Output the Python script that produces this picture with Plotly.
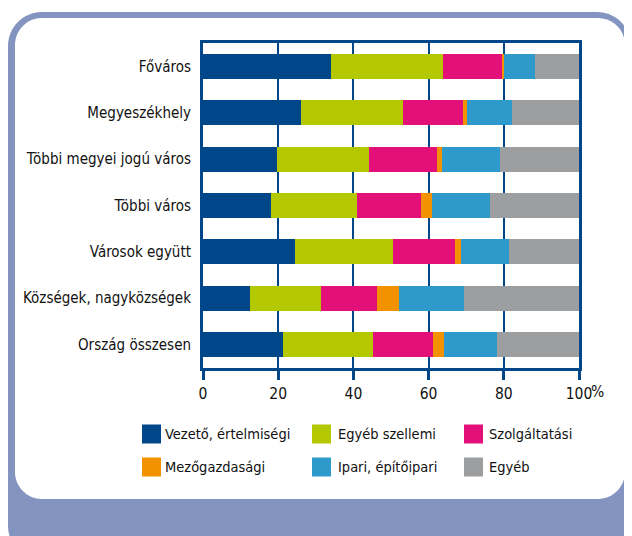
import plotly.graph_objects as go

categories = ["Főváros", "Megyeszékhely", "Többi megyei jogú város", "Többi város",
              "Városok együtt", "Községek, nagyközségek", "Ország összesen"]
series_names = ["Vezető, értelmiségi", "Egyéb szellemi", "Szolgáltatási",
                "Mezőgazdasági", "Ipari, építőipari", "Egyéb"]
vezeto = [34.0, 26.0, 19.8, 18.1, 24.5, 12.5, 21.2]
egyeb_szellemi = [29.8, 27.2, 24.4, 22.8, 25.9, 18.9, 24.0]
szolgaltatasi = [15.8, 15.9, 18.0, 17.0, 16.5, 14.9, 16.1]
mezogazdasagi = [0.4, 1.1, 1.4, 2.9, 1.6, 5.8, 2.8]
ipari = [8.2, 11.9, 15.3, 15.5, 12.8, 17.4, 14.0]
egyeb = [11.8, 17.9, 21.1, 23.7, 18.7, 30.5, 21.9]
tick_vals = [0, 20, 40, 60, 80, 100]
tick_text = ["0", "20", "40", "60", "80", "100"]

colors = ["#00478A", "#B3C800", "#E3107A", "#F39200", "#2E9ACB", "#9D9EA0"]
values = [vezeto, egyeb_szellemi, szolgaltatasi, mezogazdasagi, ipari, egyeb]

FONT = "DejaVu Sans Condensed, sans-serif"
DARK = "#00478A"
FRAME = "#8494C0"
TXT = "#111111"

# the page places the figure 8px in from the top-left corner (body margin)
OFF = 8
W_FIG, H_FIG = 632, 536
# plot area in page pixels
PL, PR, PT, PB = 203, 579, 43, 368
PW = PR - PL
PH = PB - PT
L = PL - OFF
T = PT - OFF
R = W_FIG - L - PW
B = H_FIG - T - PH


def px(x):
    return (x - PL) / PW


def py(y):
    return (PB - y) / PH


def rrect(x0, y0, x1, y1, r):
    k = 0.5523 * r
    pts = []
    pts.append(f"M{px(x0 + r)},{py(y0)}")
    pts.append(f"L{px(x1 - r)},{py(y0)}")
    pts.append(f"C{px(x1 - r + k)},{py(y0)} {px(x1)},{py(y0 + r - k)} {px(x1)},{py(y0 + r)}")
    pts.append(f"L{px(x1)},{py(y1 - r)}")
    pts.append(f"C{px(x1)},{py(y1 - r + k)} {px(x1 - r + k)},{py(y1)} {px(x1 - r)},{py(y1)}")
    pts.append(f"L{px(x0 + r)},{py(y1)}")
    pts.append(f"C{px(x0 + r - k)},{py(y1)} {px(x0)},{py(y1 - r + k)} {px(x0)},{py(y1 - r)}")
    pts.append(f"L{px(x0)},{py(y0 + r)}")
    pts.append(f"C{px(x0)},{py(y0 + r - k)} {px(x0 + r - k)},{py(y0)} {px(x0 + r)},{py(y0)}")
    pts.append("Z")
    return " ".join(pts)


fig = go.Figure()
for name, vals, col in zip(series_names, values, colors):
    fig.add_trace(go.Bar(
        y=categories, x=vals, name=name, orientation="h",
        marker=dict(color=col, line=dict(width=0)),
        showlegend=False,
    ))

shapes = [
    dict(type="path", xref="paper", yref="paper", layer="below",
         path=rrect(8, 12, 631, 560, 34), fillcolor=FRAME, line=dict(width=0)),
    dict(type="path", xref="paper", yref="paper", layer="below",
         path=rrect(15, 18, 625, 499, 27), fillcolor="white", line=dict(width=0)),
]
annotations = []

# manual legend
col_sq = [142, 312, 464]
col_tx = [164, 337, 488]
row_y = [434, 467]
SQ = 19
for i, (name, col) in enumerate(zip(series_names, colors)):
    r_, c_ = divmod(i, 3)
    x0 = col_sq[c_]
    yc = row_y[r_]
    shapes.append(dict(type="rect", xref="paper", yref="paper",
                       x0=px(x0), x1=px(x0 + SQ), y0=py(yc - SQ / 2), y1=py(yc + SQ / 2),
                       fillcolor=col, line=dict(width=0)))
    annotations.append(dict(xref="paper", yref="paper", x=px(col_tx[c_]), y=py(yc),
                            xanchor="left", yanchor="middle", text=name, showarrow=False,
                            font=dict(family=FONT, size=14.5, color=TXT), borderpad=0))

# percent sign after 100
annotations.append(dict(xref="paper", yref="paper", x=px(590), y=py(392),
                        xanchor="left", yanchor="middle", text="%", showarrow=False,
                        font=dict(family=FONT, size=15.5, color=TXT), borderpad=0))

fig.update_layout(
    width=W_FIG, height=H_FIG,
    margin=dict(l=L, r=R, t=T, b=B, pad=0),
    barmode="stack", bargap=0.46,
    paper_bgcolor="white", plot_bgcolor="rgba(0,0,0,0)",
    font=dict(family=FONT, size=15.5, color=TXT),
    shapes=shapes, annotations=annotations,
    xaxis=dict(range=[0, 100], tickvals=tick_vals, ticktext=tick_text,
               showgrid=True, gridcolor=DARK, gridwidth=1.5, zeroline=False,
               showline=True, linecolor=DARK, linewidth=3, mirror=True,
               ticks="outside", ticklen=9, tickwidth=3, tickcolor=DARK,
               tickfont=dict(family=FONT, size=15.5, color=TXT),
               automargin=False, fixedrange=True),
    yaxis=dict(categoryorder="array", categoryarray=categories,
               range=[6.51, -0.51], showgrid=False, zeroline=False,
               showline=True, linecolor=DARK, linewidth=3, mirror=True,
               ticks="", ticklabelstandoff=6,
               tickfont=dict(family=FONT, size=15, color=TXT),
               automargin=False, fixedrange=True),
)

fig.write_html("out.html")
